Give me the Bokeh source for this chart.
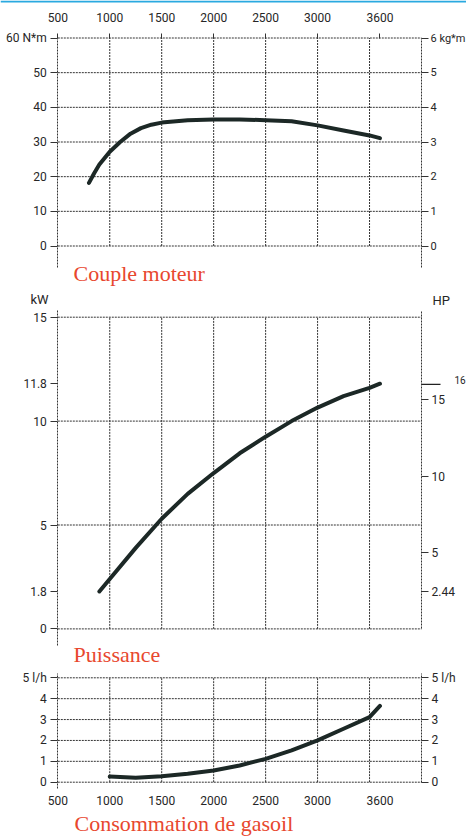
from bokeh.plotting import figure
from bokeh.models import Range1d, LinearAxis, FixedTicker, Label, Span
from bokeh.layouts import column
from bokeh.embed import file_html
from bokeh.resources import INLINE

# ---------------- data ----------------
rpm_ticks = [500, 1000, 1500, 2000, 2500, 3000, 3600]
rpm_tick_labels = ["500", "1000", "1500", "2000", "2500", "3000", "3600"]
rpm_grid = [1000, 1500, 2000, 2500, 3000, 3500]
rpm_min, rpm_max = 500, 4000

torque_rpm = [800, 850, 900, 1000, 1100, 1200, 1300, 1400, 1500, 1750, 2000, 2250, 2500, 2750, 3000, 3250, 3500, 3600]
torque_nm = [18.2, 21.0, 23.5, 27.2, 30.0, 32.4, 34.0, 35.0, 35.6, 36.3, 36.5, 36.5, 36.3, 36.0, 34.8, 33.3, 31.9, 31.1]
torque_ticks = [0, 10, 20, 30, 40, 50, 60]
torque_labels = ["0", "10", "20", "30", "40", "50", "60 N*m"]
kgm_ticks = [0, 1, 2, 3, 4, 5, 6]
kgm_labels = ["0", "1", "2", "3", "4", "5", "6 kg*m"]

power_rpm = [900, 1000, 1250, 1500, 1750, 2000, 2250, 2500, 2750, 3000, 3250, 3500, 3600]
power_kw = [1.8, 2.4, 3.9, 5.3, 6.5, 7.5, 8.45, 9.25, 10.0, 10.65, 11.2, 11.6, 11.8]
kw_ticks = [0, 1.8, 5, 10, 11.8, 15]
kw_labels = ["0", "1.8", "5", "10", "11.8", "15"]
kw_grid = [0, 5, 10, 15]
hp_ticks = [2.44, 5, 10, 15]
hp_labels = ["2.44", "5", "10", "15"]
hp_max = 16
hp_per_kw = 1 / 0.7355

fuel_rpm = [1000, 1250, 1500, 1750, 2000, 2250, 2500, 2750, 3000, 3250, 3500, 3600]
fuel_lh = [0.27, 0.21, 0.29, 0.40, 0.56, 0.80, 1.12, 1.52, 2.0, 2.56, 3.12, 3.65]
fuel_ticks = [0, 1, 2, 3, 4, 5]
fuel_labels = ["0", "1", "2", "3", "4", "5 l/h"]

# ---------------- style / layout constants ----------------
FONT = "Roboto"
TITLE_FONT = "Liberation Serif"
RED = "#e8472e"
GRID = "#333333"
TXT = "#262626"
DASH = "2 1"
CURVE = "#1c2826"
BLUE = "#2aa9e0"
W = 466                      # canvas width in px
PAGE_X0 = 0                  # page x of canvas left
X_500, X_4000 = 57.3, 421.0  # page x of 500 and 4000 rpm
KX = (X_4000 - X_500) / (rpm_max - rpm_min)
x_lo = rpm_min - (X_500 - PAGE_X0) / KX
x_hi = rpm_max + (PAGE_X0 + W - X_4000) / KX


def px_x(page_x):
    return rpm_min + (page_x - X_500) / KX


def make_fig(top, height, y_ref_hi, v_hi, y_ref_lo, v_lo):
    """Figure whose frame fills the canvas; y range so that value v_hi sits at page y_ref_hi."""
    k = (y_ref_lo - y_ref_hi) / (v_hi - v_lo)
    y_hi = v_hi + (y_ref_hi - top) / k
    y_lo = v_lo - (top + height - y_ref_lo) / k
    p = figure(width=W, height=height, x_range=Range1d(x_lo, x_hi), y_range=Range1d(y_lo, y_hi),
               x_axis_location=None, y_axis_location=None, min_border=0,
               output_backend="svg", toolbar_location=None)
    p.outline_line_color = None
    p.background_fill_color = "white"
    p.border_fill_color = "white"
    p.grid.visible = False
    return p, k


def add_axis(p, side, ticks, labels, loc, bounds, range_name=None, tick_out=7, standoff=4,
             line=True, size="12px"):
    kw = {}
    if range_name:
        kw["y_range_name"] = range_name
    ax = LinearAxis(fixed_location=loc, bounds=bounds if bounds is not None else "auto", **kw)
    ax.ticker = FixedTicker(ticks=ticks)
    ax.major_label_overrides = {t: l for t, l in zip(ticks, labels)}
    ax.major_tick_out = tick_out
    ax.major_tick_in = 0
    ax.minor_tick_line_color = None
    ax.major_tick_line_color = GRID if tick_out > 0 else None
    ax.major_label_standoff = standoff
    ax.major_label_text_font = FONT
    ax.major_label_text_font_size = size
    ax.major_label_text_color = TXT
    if line:
        ax.axis_line_color = GRID
        ax.axis_line_dash = DASH
    else:
        ax.axis_line_color = None
    p.add_layout(ax, side)
    return ax


def grids(p, yticks):
    n = len(yticks)
    p.segment(x0=[rpm_min] * n, y0=yticks, x1=[rpm_max] * n, y1=yticks,
              line_color=GRID, line_dash=DASH, line_width=1)
    m = len(rpm_grid)
    p.segment(x0=rpm_grid, y0=[min(yticks)] * m, x1=rpm_grid, y1=[max(yticks)] * m,
              line_color=GRID, line_dash=DASH, line_width=1)


def curve(p, x, y):
    p.line(x, y, line_width=4, line_color=CURVE, line_cap="round", line_join="round")


def title(p, x, y, text):
    p.add_layout(Label(x=x, y=y, text=text, text_font=TITLE_FONT, text_font_size="22px",
                       text_color=RED, text_baseline="middle", text_align="left"))


def plain(p, x, y, text, size="12px", baseline="middle", **kw):
    p.add_layout(Label(x=x, y=y, text=text, text_font=FONT, text_font_size=size,
                       text_color=TXT, text_baseline=baseline, text_align="left", **kw))


# ---------------- figure 1 : Couple moteur ----------------
T1, H1 = 0, 288
p1, k1 = make_fig(T1, H1, 37.5, max(torque_ticks), 245.5, min(torque_ticks))
v1 = lambda page_y: (245.5 - page_y) / k1
p1.extra_y_ranges = {"kgm": Range1d(p1.y_range.start / 10, p1.y_range.end / 10)}
p1.add_layout(Span(location=v1(1), dimension="width", line_color=BLUE, line_width=2))
grids(p1, torque_ticks)
add_axis(p1, "left", torque_ticks, torque_labels, rpm_min, (v1(267), max(torque_ticks)))
add_axis(p1, "right", kgm_ticks, kgm_labels, rpm_max, (v1(267) / 10, max(kgm_ticks)),
         range_name="kgm", standoff=2, size="11px")
add_axis(p1, "above", rpm_ticks, rpm_tick_labels, max(torque_ticks), None, tick_out=5,
         standoff=11, line=False)
curve(p1, torque_rpm, torque_nm)
title(p1, px_x(73), v1(272.5), "Couple moteur")

# ---------------- figure 2 : Puissance ----------------
T2, H2 = 288, 380
p2, k2 = make_fig(T2, H2, 316.7, max(kw_grid), 628.4, min(kw_grid))
v2 = lambda page_y: (628.4 - page_y) / k2
p2.extra_y_ranges = {"hp": Range1d(p2.y_range.start * hp_per_kw, p2.y_range.end * hp_per_kw)}
grids(p2, kw_grid)
add_axis(p2, "left", kw_ticks, kw_labels, rpm_min, (v2(645), v2(310)))
add_axis(p2, "right", hp_ticks, hp_labels, rpm_max, (0, v2(310) * hp_per_kw),
         range_name="hp", standoff=3)
curve(p2, power_rpm, power_kw)
p2.segment(x0=[rpm_max], y0=[hp_max], x1=[px_x(440)], y1=[hp_max], y_range_name="hp",
           line_color="#222222", line_width=1.3)
plain(p2, px_x(454), hp_max, str(hp_max), size="10px", baseline="bottom", y_range_name="hp")
plain(p2, px_x(30), v2(299), "kW", size="13px")
plain(p2, px_x(432), v2(300), "HP", size="13px")
title(p2, px_x(73), v2(654), "Puissance")

# ---------------- figure 3 : Consommation de gasoil ----------------
T3, H3 = 668, 168
p3, k3 = make_fig(T3, H3, 677.3, max(fuel_ticks), 781.7, min(fuel_ticks))
v3 = lambda page_y: (781.7 - page_y) / k3
grids(p3, fuel_ticks)
add_axis(p3, "left", fuel_ticks, fuel_labels, rpm_min, (v3(788), v3(673)))
add_axis(p3, "right", fuel_ticks, fuel_labels, rpm_max, (0, v3(673)), standoff=3)
add_axis(p3, "below", rpm_ticks, rpm_tick_labels, v3(788), None, tick_out=0, standoff=7, line=False)
curve(p3, fuel_rpm, fuel_lh)
title(p3, px_x(74), v3(822.5), "Consommation de gasoil")

layout = column(p1, p2, p3, spacing=0)
open("out.html", "w").write(file_html(layout, INLINE))
